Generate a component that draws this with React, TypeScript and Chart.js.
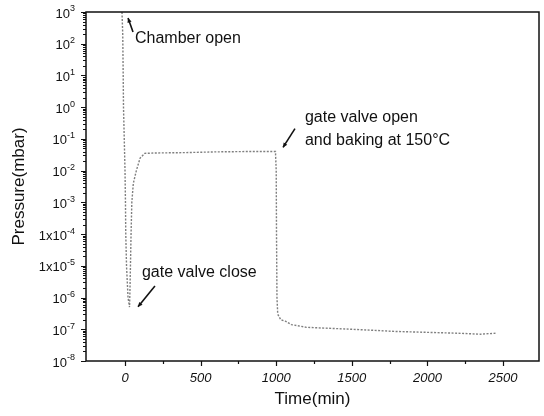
import React, { useEffect, useRef } from "react";
import { Chart, registerables } from "chart.js";

Chart.register(...registerables);

// ---- data ----
const timeMin = [
  -20, -15, -12, -10, -5, 0, 3, 5, 10, 20, 30, 33, 36, 40, 45, 55, 75, 100, 130,
  200, 400, 600, 800, 995, 1000, 1002, 1005, 1010, 1030, 1060, 1100, 1200, 1400,
  1600, 1800, 2000, 2200, 2350, 2450,
];
const pressureMbar = [
  1000, 200, 10, 1, 0.1, 1e-2, 1e-3, 1e-4, 1e-5, 1e-6, 5e-7, 2e-6, 1e-5, 1e-4,
  1e-3, 4e-3, 1e-2, 2.5e-2, 3.5e-2, 3.6e-2, 3.7e-2, 3.9e-2, 4e-2, 4e-2, 1e-2,
  1e-4, 1e-6, 3e-7, 2e-7, 1.8e-7, 1.4e-7, 1.15e-7, 1.05e-7, 9.5e-8, 8.5e-8,
  8e-8, 7.5e-8, 7e-8, 7.5e-8,
];

// ---- axis ticks ----
const xMajorTicks = [0, 500, 1000, 1500, 2000, 2500];
const xMinorTicks = [250, 750, 1250, 1750, 2250];
const yExponents = [3, 2, 1, 0, -1, -2, -3, -4, -5, -6, -7, -8];
const yTickMantissa = ["10", "10", "10", "10", "10", "10", "10", "1x10", "1x10", "10", "10", "10"];
const yTickExponent = ["3", "2", "1", "0", "-1", "-2", "-3", "-4", "-5", "-6", "-7", "-8"];

const xTitle = "Time(min)";
const yTitle = "Pressure(mbar)";

// ---- annotations (data coordinates) ----
const noteTexts = ["Chamber open", "gate valve close", "gate valve open", "and baking at 150°C"];
const noteTime = [66, 112, 1190, 1190];
const notePressure = [150, 6e-6, 0.48, 0.089];
const arrowFromTime = [53, 198, 1124];
const arrowFromPressure = [234, 2.3e-6, 0.21];
const arrowToTime = [20, 86, 1045];
const arrowToPressure = [650, 5.1e-7, 0.054];

const FONT = "'Liberation Sans', Arial, sans-serif";

const decorPlugin = {
  id: "decor",
  afterDatasetsDraw(chart: any) {
    const { ctx, chartArea: a, scales } = chart;
    const xs = scales.x;
    const ys = scales.y;
    ctx.save();
    // frame
    ctx.strokeStyle = "#111";
    ctx.lineWidth = 1.5;
    ctx.strokeRect(a.left, a.top, a.right - a.left, a.bottom - a.top);

    // x ticks
    ctx.lineWidth = 1.2;
    ctx.beginPath();
    xMajorTicks.forEach((t) => {
      const px = Math.round(xs.getPixelForValue(t)) + 0.5;
      ctx.moveTo(px, a.bottom);
      ctx.lineTo(px, a.bottom + 5);
    });
    xMinorTicks.forEach((t) => {
      const px = Math.round(xs.getPixelForValue(t)) + 0.5;
      ctx.moveTo(px, a.bottom);
      ctx.lineTo(px, a.bottom + 3);
    });
    // y ticks
    yExponents.forEach((e) => {
      const py = Math.round(ys.getPixelForValue(Math.pow(10, e))) + 0.5;
      ctx.moveTo(a.left, py);
      ctx.lineTo(a.left - 5, py);
      if (e > -8) {
        const lower = e - 1;
        for (let m = 2; m <= 9; m++) {
          const v = m * Math.pow(10, lower);
          const q = Math.round(ys.getPixelForValue(v)) + 0.5;
          ctx.moveTo(a.left, q);
          ctx.lineTo(a.left - 3, q);
        }
      }
    });
    ctx.stroke();

    // x tick labels
    ctx.fillStyle = "#111";
    ctx.font = `italic 13px ${FONT}`;
    ctx.textAlign = "center";
    ctx.textBaseline = "middle";
    xMajorTicks.forEach((t) => {
      ctx.fillText(String(t), xs.getPixelForValue(t), a.bottom + 17);
    });

    // y tick labels with superscript exponents
    const right = a.left - 11;
    yExponents.forEach((e, i) => {
      const py = ys.getPixelForValue(Math.pow(10, e));
      ctx.font = `9px ${FONT}`;
      const expW = ctx.measureText(yTickExponent[i]).width;
      ctx.font = `13px ${FONT}`;
      const baseW = ctx.measureText(yTickMantissa[i]).width;
      ctx.textAlign = "left";
      ctx.textBaseline = "middle";
      ctx.fillText(yTickMantissa[i], right - expW - baseW, py + 2);
      ctx.font = `9px ${FONT}`;
      ctx.fillText(yTickExponent[i], right - expW, py - 3);
    });

    // axis titles
    ctx.font = `17px ${FONT}`;
    ctx.textAlign = "center";
    ctx.textBaseline = "middle";
    ctx.fillText(xTitle, (a.left + a.right) / 2, a.bottom + 38);
    ctx.save();
    ctx.translate(19, (a.top + a.bottom) / 2);
    ctx.rotate(-Math.PI / 2);
    ctx.fillText(yTitle, 0, 0);
    ctx.restore();

    // annotations
    ctx.font = `16px ${FONT}`;
    ctx.textAlign = "left";
    ctx.textBaseline = "middle";
    noteTexts.forEach((txt, i) => {
      ctx.fillText(txt, xs.getPixelForValue(noteTime[i]), ys.getPixelForValue(notePressure[i]));
    });
    ctx.strokeStyle = "#111";
    ctx.lineWidth = 1.6;
    arrowFromTime.forEach((_, i) => {
      const x1 = xs.getPixelForValue(arrowFromTime[i]);
      const y1 = ys.getPixelForValue(arrowFromPressure[i]);
      const x2 = xs.getPixelForValue(arrowToTime[i]);
      const y2 = ys.getPixelForValue(arrowToPressure[i]);
      ctx.beginPath();
      ctx.moveTo(x1, y1);
      ctx.lineTo(x2, y2);
      ctx.stroke();
      const ang = Math.atan2(y2 - y1, x2 - x1);
      const hl = 5;
      ctx.beginPath();
      ctx.moveTo(x2, y2);
      ctx.lineTo(x2 - hl * Math.cos(ang - 0.45), y2 - hl * Math.sin(ang - 0.45));
      ctx.lineTo(x2 - hl * Math.cos(ang + 0.45), y2 - hl * Math.sin(ang + 0.45));
      ctx.closePath();
      ctx.fillStyle = "#111";
      ctx.fill();
    });
    ctx.restore();
  },
};

export default function App() {
  const ref = useRef<HTMLCanvasElement | null>(null);
  useEffect(() => {
    if (!ref.current) return;
    const chart = new Chart(ref.current, {
      type: "line",
      data: {
        datasets: [
          {
            data: timeMin.map((t, i) => ({ x: t, y: pressureMbar[i] })),
            borderColor: "#7f7f7f",
            borderWidth: 1.4,
            borderDash: [2, 1.5],
            pointRadius: 0,
            tension: 0,
            fill: false,
          },
        ],
      },
      options: {
        responsive: false,
        animation: false,
        layout: { padding: { left: 86, top: 12, right: 5, bottom: 55 } },
        plugins: { legend: { display: false }, tooltip: { enabled: false } },
        scales: {
          x: { type: "linear", min: -258, max: 2738, display: false },
          y: { type: "logarithmic", min: 1e-8, max: 1e3, display: false },
        },
      },
      plugins: [decorPlugin],
    });
    return () => chart.destroy();
  }, []);
  return (
    <div style={{ position: "fixed", left: 0, top: 0, width: 544, height: 416, background: "#fff" }}>
      <canvas ref={ref} width={544} height={416} />
    </div>
  );
}
